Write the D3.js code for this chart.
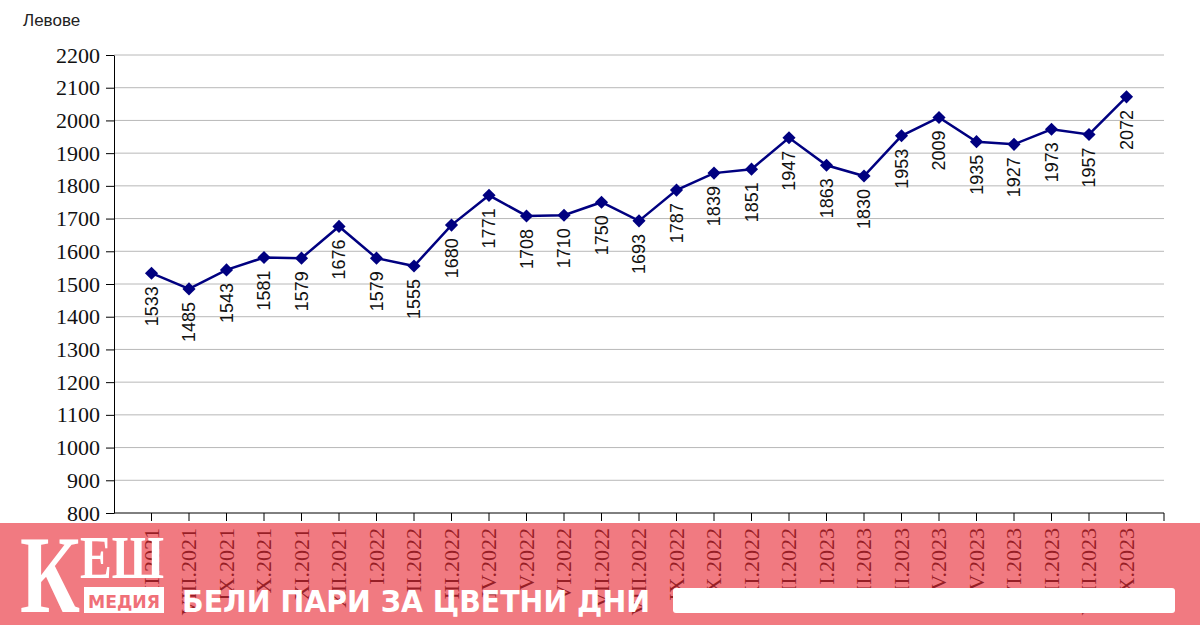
<!DOCTYPE html>
<html><head><meta charset="utf-8">
<script src="https://cdn.jsdelivr.net/npm/d3@7"></script>
<style>body{margin:0;background:#fff}svg{display:block}</style></head>
<body><svg id="c" width="1200" height="625"></svg>
<script>
const categories = ["VII.2021","VIII.2021","IX.2021","X.2021","XI.2021","XII.2021",
"I.2022","II.2022","III.2022","IV.2022","V.2022","VI.2022","VII.2022","VIII.2022","IX.2022","X.2022","XI.2022","XII.2022",
"I.2023","II.2023","III.2023","IV.2023","V.2023","VI.2023","VII.2023","VIII.2023","IX.2023"];
const values = [1533,1485,1543,1581,1579,1676,1579,1555,1680,1771,1708,1710,1750,1693,1787,1839,1851,1947,1863,1830,1953,2009,1935,1927,1973,1957,2072];
const yTicks = [800,900,1000,1100,1200,1300,1400,1500,1600,1700,1800,1900,2000,2100,2200];

const svg = d3.select("#c");
const L=114,R=1164,T=55,B=513;
const x = d3.scalePoint().domain(categories).range([L,R]).padding(1);
const y = d3.scaleLinear().domain([800,2200]).range([B,T]);

svg.append("g").selectAll("line").data(yTicks.slice(1)).join("line")
 .attr("x1",L).attr("x2",R).attr("y1",d=>y(d)).attr("y2",d=>y(d)).attr("stroke","#b8b8b8");

const ya = svg.append("g").attr("transform",`translate(${L},0)`)
 .call(d3.axisLeft(y).tickValues(yTicks).tickFormat(d3.format("d")).tickSize(8).tickPadding(6).tickSizeOuter(0));
ya.select(".domain").attr("stroke","#000");
ya.selectAll("text").attr("font-family","Liberation Serif, serif").attr("font-size",22).attr("fill","#111");

const xa = svg.append("g").attr("transform",`translate(0,${B})`);
xa.append("line").attr("x1",L).attr("x2",R).attr("stroke","#000");
xa.selectAll("line.t").data(categories.concat(["end"])).join("line").attr("class","t")
 .attr("x1",d=>d==="end"?R:x(d)).attr("x2",d=>d==="end"?R:x(d)).attr("y1",0).attr("y2",8).attr("stroke","#000");
xa.selectAll("text").data(categories).join("text")
 .attr("transform",d=>`translate(${x(d)+7},15) rotate(-90)`).attr("text-anchor","end")
 .attr("font-family","Liberation Serif, serif").attr("font-size",22).attr("fill","#111").text(d=>d);

svg.append("text").attr("x",23).attr("y",26).attr("font-family","Liberation Sans, Arial").attr("font-size",17).attr("fill","#222").text("Левове");

svg.append("path").datum(values).attr("fill","none").attr("stroke","#000080").attr("stroke-width",2.5)
 .attr("d",d3.line().x((d,i)=>x(categories[i])).y(d=>y(d)));
svg.append("g").selectAll("path").data(values).join("path")
 .attr("transform",(d,i)=>`translate(${x(categories[i])},${y(d)})`)
 .attr("d",d3.symbol(d3.symbolDiamond2,110)()).attr("fill","#000080");
svg.append("g").selectAll("text").data(values).join("text")
 .attr("transform",(d,i)=>`translate(${x(categories[i])+6},${y(d)+13}) rotate(-90)`).attr("text-anchor","end")
 .attr("font-family","Liberation Sans, Arial").attr("font-size",18).attr("fill","#111").text(d=>d);

// banner
svg.append("rect").attr("x",0).attr("y",523).attr("width",1200).attr("height",102).attr("fill","rgb(232,40,52)").attr("opacity",0.62);
svg.append("text").attr("x",20).attr("y",612).attr("font-family","Liberation Serif, serif").attr("font-weight","bold").attr("font-size",110).attr("fill","#fff").attr("textLength",60).attr("lengthAdjust","spacingAndGlyphs").text("К");
svg.append("text").attr("x",80).attr("y",578).attr("font-family","Liberation Serif, serif").attr("font-weight","bold").attr("font-size",62).attr("fill","#fff").attr("textLength",84).attr("lengthAdjust","spacingAndGlyphs").text("ЕШ");
svg.append("rect").attr("x",84).attr("y",587).attr("width",80).attr("height",26).attr("fill","#fff");
svg.append("text").attr("x",124).attr("y",608).attr("text-anchor","middle").attr("font-family","DejaVu Sans, sans-serif").attr("font-weight","bold").attr("font-size",18).attr("fill","#f07078").attr("textLength",72).attr("lengthAdjust","spacingAndGlyphs").text("МЕДИЯ");
svg.append("text").attr("x",182).attr("y",612).attr("font-family","DejaVu Sans, sans-serif").attr("font-weight","bold").attr("font-size",30).attr("fill","#fff").attr("textLength",468).attr("lengthAdjust","spacingAndGlyphs").text("БЕЛИ ПАРИ ЗА ЦВЕТНИ ДНИ");
svg.append("rect").attr("x",673).attr("y",588).attr("width",502).attr("height",25).attr("rx",3).attr("fill","#fff");
</script></body></html>
